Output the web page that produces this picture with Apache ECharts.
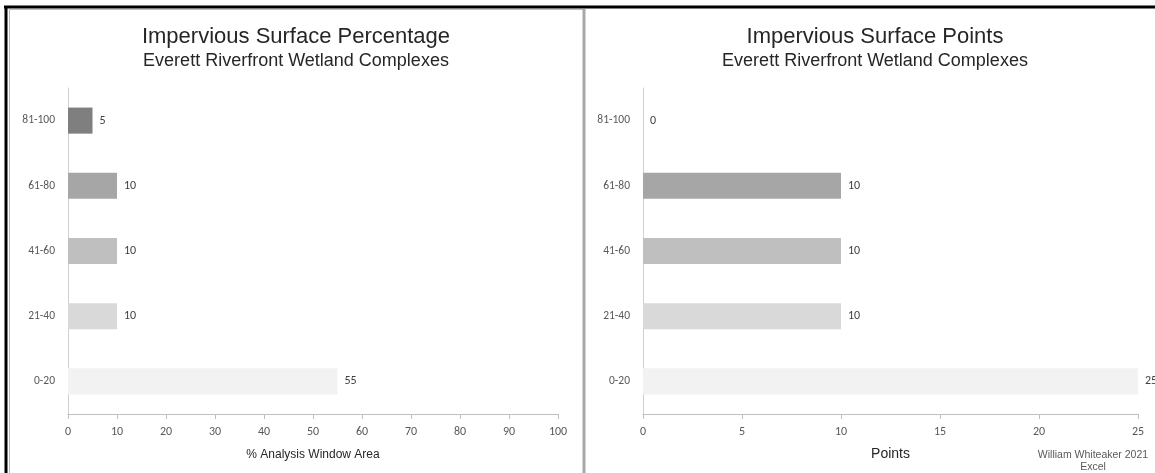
<!DOCTYPE html>
<html>
<head>
<meta charset="utf-8">
<script src="https://cdn.jsdelivr.net/npm/echarts@6/dist/echarts.min.js"></script>
<style>
html,body{margin:0;padding:0;background:#fff;}
#c{width:1155px;height:473px;}
</style>
</head>
<body>
<div id="c"></div>
<script>
// ---- data ----
const categories = ['0-20', '21-40', '41-60', '61-80', '81-100'];
const percentValues = [55, 10, 10, 10, 5];
const pointValues = [25, 10, 10, 10, 0];
const percentTicks = { min: 0, max: 100, interval: 10 };
const pointTicks = { min: 0, max: 25, interval: 5 };
const leftTitle = 'Impervious Surface Percentage';
const rightTitle = 'Impervious Surface Points';
const subTitle = 'Everett Riverfront Wetland Complexes';
const leftAxisName = '% Analysis Window Area';
const rightAxisName = 'Points';
const credit = 'William Whiteaker 2021\nExcel';

// ---- styles ----
const barColors = ['#f2f2f2', '#d9d9d9', '#bfbfbf', '#a6a6a6', '#7f7f7f'];
const labelFont = 'Carlito, Lato, "Open Sans", sans-serif';
const titleFont = '"Liberation Sans", Arial, sans-serif';

function coloredData(vals) {
  return vals.map((v, i) => ({ value: v, itemStyle: { color: barColors[i] } }));
}

function xAxisFor(ticks, name, gridIndex, nameSize, nameGap) {
  return {
    type: 'value', gridIndex,
    min: ticks.min, max: ticks.max, interval: ticks.interval,
    splitLine: { show: false },
    axisLine: { show: true, lineStyle: { color: '#bfbfbf', width: 1 } },
    axisTick: { show: true, length: 5, lineStyle: { color: '#bfbfbf' } },
    axisLabel: { color: '#595959', fontSize: 12, fontFamily: labelFont, margin: 12 },
    name, nameLocation: 'middle', nameGap,
    nameTextStyle: { color: '#262626', fontSize: nameSize, fontFamily: titleFont }
  };
}
function yAxisFor(gridIndex) {
  return {
    type: 'category', gridIndex, data: categories,
    axisLine: { show: true, lineStyle: { color: '#d0d0d0', width: 1 } },
    axisTick: { show: false },
    axisLabel: { color: '#595959', fontSize: 11.5, fontFamily: labelFont, margin: 13 }
  };
}
function barSeries(vals, idx) {
  return {
    type: 'bar', xAxisIndex: idx, yAxisIndex: idx,
    data: coloredData(vals), barWidth: '40%',
    label: { show: true, position: 'right', distance: 7, color: '#404040',
             fontSize: 12, fontFamily: labelFont },
    silent: true, animation: false
  };
}

const chart = echarts.init(document.getElementById('c'), null, { renderer: 'canvas' });
chart.setOption({
  animation: false,
  backgroundColor: '#fff',
  title: [
    { text: leftTitle, subtext: subTitle, left: 291, top: 21, textAlign: 'center', itemGap: 4,
      textStyle: { fontFamily: titleFont, fontSize: 22, fontWeight: 'normal', color: '#262626' },
      subtextStyle: { fontFamily: titleFont, fontSize: 18, color: '#262626' } },
    { text: rightTitle, subtext: subTitle, left: 870, top: 21, textAlign: 'center', itemGap: 4,
      textStyle: { fontFamily: titleFont, fontSize: 22, fontWeight: 'normal', color: '#262626' },
      subtextStyle: { fontFamily: titleFont, fontSize: 18, color: '#262626' } },
    { text: credit, left: 1088, top: 444, textAlign: 'center',
      textStyle: { fontFamily: titleFont, fontSize: 10.5, fontWeight: 'normal', color: '#595959', lineHeight: 12 } }
  ],
  grid: [
    { left: 68, top: 88, width: 490, height: 326 },
    { left: 643, top: 88, width: 495, height: 326 }
  ],
  xAxis: [
    xAxisFor(percentTicks, leftAxisName, 0, 12, 35),
    xAxisFor(pointTicks, rightAxisName, 1, 14, 33)
  ],
  yAxis: [yAxisFor(0), yAxisFor(1)],
  series: [barSeries(percentValues, 0), barSeries(pointValues, 1)],
  graphic: [
    { type: 'line', shape: { x1: 4, y1: 7, x2: 1155, y2: 7 }, style: { stroke: '#000', lineWidth: 3 }, silent: true },
    { type: 'line', shape: { x1: 6, y1: 6, x2: 6, y2: 473 }, style: { stroke: '#000', lineWidth: 3 }, silent: true },
    { type: 'line', shape: { x1: 9, y1: 9.5, x2: 583, y2: 9.5 }, style: { stroke: '#bdbdbd', lineWidth: 1 }, silent: true },
    { type: 'line', shape: { x1: 9.5, y1: 9, x2: 9.5, y2: 473 }, style: { stroke: '#bdbdbd', lineWidth: 1 }, silent: true },
    { type: 'line', shape: { x1: 584, y1: 9, x2: 584, y2: 473 }, style: { stroke: '#a8a8a8', lineWidth: 3 }, silent: true }
  ]
});
</script>
</body>
</html>
